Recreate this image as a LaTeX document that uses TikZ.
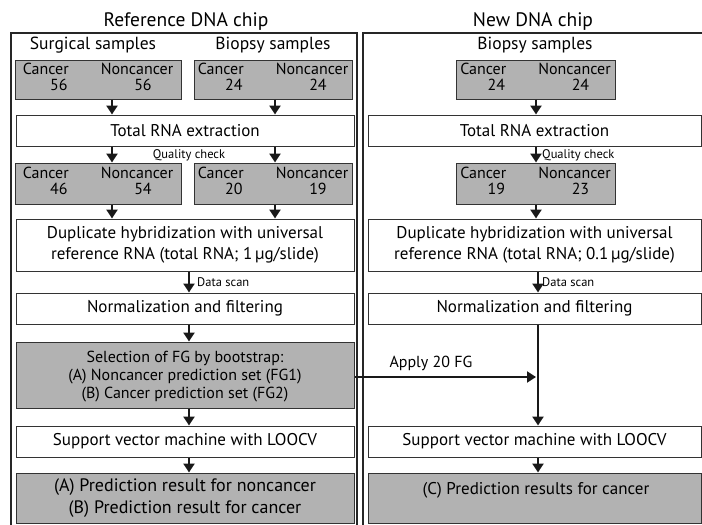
\documentclass[tikz,border=0pt]{standalone}
\usepackage{fontspec}
\setmainfont{PT Sans}
\usetikzlibrary{arrows.meta}
\tikzset{
  panel/.style={draw=black!85, line width=1.3pt},
  plainbox/.style={draw=black!80, line width=1pt, fill=white, rectangle, inner sep=0pt, align=center, font=\fontsize{17}{21}\selectfont},
  shadebox/.style={plainbox, fill=black!30},
  samplebox/.style={shadebox, minimum height=39pt, font=\fontsize{16}{15.5}\selectfont},
  arr/.style={line width=2.6pt, black!90, -{Triangle[length=9pt,width=11pt]}},
  title/.style={font=\fontsize{19.5}{22}\selectfont},
  sub/.style={font=\fontsize{17.5}{20}\selectfont},
  small/.style={font=\fontsize{12.5}{13}\selectfont, inner sep=1pt},
}
\newcommand{\cnc}[2]{\begin{tabular}{@{}c@{\hspace{32pt}}c@{}}Cancer & Noncancer\\ \hspace{26pt}#1 & \hspace{12pt}#2\end{tabular}}
\begin{document}
\begin{tikzpicture}[x=1pt,y=-1pt]
\useasboundingbox (0,0) rectangle (702,525);
% panels
\draw[panel] (11,33) rectangle (357,535);
\draw[panel] (363,33) rectangle (706,535);
\node[title] (tl) at (186,22) {Reference DNA chip};
\node[title] (tr) at (533,22) {New DNA chip};
\node[sub] (surgt) at (93,45) {Surgical samples};
\node[sub] (biopt) at (273,45) {Biopsy samples};
\node[sub] (biopr) at (535,45) {Biopsy samples};
% sample boxes row 1
\node[samplebox, minimum width=166pt] (s1) at (98,79.5) {\cnc{56}{56}};
\node[samplebox, minimum width=158pt] (b1) at (273,79.5) {\cnc{24}{24}};
\node[samplebox, minimum width=159pt] (r1) at (535.5,79.5) {\cnc{24}{24}};
% total RNA
\node[plainbox, minimum width=338pt, minimum height=31pt] (rnaL) at (185,130.5) {Total RNA extraction};
\node[plainbox, minimum width=333pt, minimum height=31pt] (rnaR) at (534.5,130.5) {Total RNA extraction};
% sample boxes row 2
\node[samplebox, minimum width=166pt, minimum height=41pt] (s2) at (98,183.5) {\cnc{46}{54}};
\node[samplebox, minimum width=158pt, minimum height=41pt] (b2) at (273,183.5) {\cnc{20}{19}};
\node[samplebox, minimum width=159pt, minimum height=41pt] (r2) at (535.5,183.5) {\cnc{19}{23}};
% duplicate hybridization
\node[plainbox, minimum width=338pt, minimum height=52pt] (dupL) at (185,245) {Duplicate hybridization with universal\\reference RNA (total RNA; 1\,µg/slide)};
\node[plainbox, minimum width=333pt, minimum height=52pt] (dupR) at (534.5,245) {Duplicate hybridization with universal\\reference RNA (total RNA; 0.1\,µg/slide)};
% normalization
\node[plainbox, minimum width=338pt, minimum height=31pt] (normL) at (185,308.5) {Normalization and filtering};
\node[plainbox, minimum width=333pt, minimum height=31pt] (normR) at (534.5,308.5) {Normalization and filtering};
% selection
\node[shadebox, minimum width=338pt, minimum height=66pt] (selL) at (185,375) {};
\node[align=center, font=\fontsize{16}{18}\selectfont] (selLt) at (185,377) {Selection of FG by bootstrap:\\(A) Noncancer prediction set (FG1)\\(B) Cancer prediction set (FG2)};
% SVM
\node[plainbox, minimum width=338pt, minimum height=31pt] (svmL) at (185,441.5) {Support vector machine with LOOCV};
\node[plainbox, minimum width=333pt, minimum height=31pt] (svmR) at (534.5,441.5) {Support vector machine with LOOCV};
% results
\node[shadebox, minimum width=338pt, minimum height=50pt, font=\fontsize{18}{22}\selectfont] (resL) at (185,498) {(A) Prediction result for noncancer\\(B) Prediction result for cancer};
\node[shadebox, minimum width=333pt, minimum height=50pt] (resR) at (534.5,498) {};
\node[font=\fontsize{17}{21}\selectfont] (resRt) at (536,490) {(C) Prediction results for cancer};
% column coordinates
\coordinate (xa) at (112,0);
\coordinate (xb) at (275,0);
\coordinate (xc) at (189,0);
\coordinate (xd) at (536,0);
\coordinate (xe) at (538,0);
\coordinate (join) at (536,377);
% arrows left
\draw[arr] (s1.south -| xa) -- (rnaL.north -| xa);
\draw[arr] (b1.south -| xb) -- (rnaL.north -| xb);
\draw[arr] (rnaL.south -| xa) -- (s2.north -| xa);
\draw[arr] (rnaL.south -| xb) -- (b2.north -| xb);
\node[small] (qcL) at (189,155) {Quality check};
\draw[arr] (s2.south -| xa) -- (dupL.north -| xa);
\draw[arr] (b2.south -| xb) -- (dupL.north -| xb);
\draw[arr] (dupL.south -| xc) -- (normL.north -| xc);
\node[small, anchor=west] (dsL) at (196,282) {Data scan};
\draw[arr] (normL.south -| xc) -- (selL.north -| xc);
\draw[arr] (selL.south -| xc) -- (svmL.north -| xc);
\draw[arr] (svmL.south -| xc) -- (resL.north -| xc);
% arrows right
\draw[arr] (r1.south -| xd) -- (rnaR.north -| xd);
\draw[arr] (rnaR.south -| xd) -- (r2.north -| xd);
\node[small, anchor=west] (qcR) at (541,155) {Quality check};
\draw[arr] (r2.south -| xd) -- (dupR.north -| xd);
\draw[arr] (dupR.south -| xe) -- (normR.north -| xe);
\node[small, anchor=west] (dsR) at (541,282) {Data scan};
\draw[arr] (normR.south -| xe) -- (svmR.north -| xe);
\draw[arr] (svmR.south -| xe) -- (resR.north -| xe);
% apply 20 FG
\draw[arr, line width=2pt] (selL.east |- join) -- (join);
\node[font=\fontsize{16}{18}\selectfont, anchor=west] (apply) at (386,363) {Apply 20 FG};
\end{tikzpicture}
\end{document}
